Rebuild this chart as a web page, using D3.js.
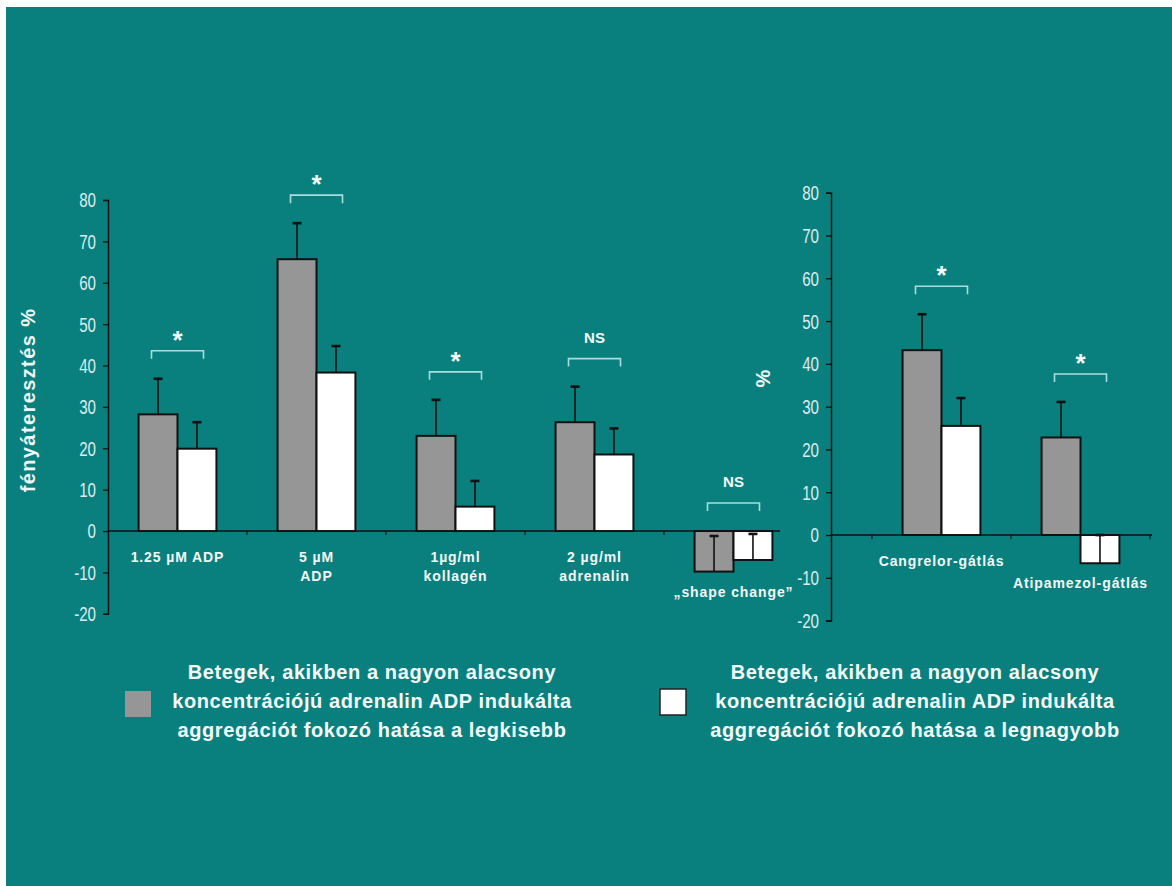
<!DOCTYPE html>
<html>
<head>
<meta charset="utf-8">
<script src="https://cdn.jsdelivr.net/npm/d3@7"></script>
<style>
  html, body { margin: 0; padding: 0; background: #ffffff; }
  svg { display: block; }
  text { font-family: Arial, "Liberation Sans", sans-serif; }
</style>
</head>
<body>
<script>
// Aggregation (% light transmission) — two patient groups
const leftCategories = [["1.25 µM ADP"], ["5 µM", "ADP"], ["1µg/ml", "kollagén"], ["2 µg/ml", "adrenalin"], ["„shape change”"]];
const leftLowValues  = [28.2, 65.7, 23.0, 26.3, -9.8];
const leftLowErrors  = [8.6, 8.7, 8.7, 8.6, 8.6];
const leftHighValues = [19.9, 38.3, 5.9, 18.5, -7.0];
const leftHighErrors = [6.4, 6.4, 6.2, 6.3, 6.3];
const leftSignificance = ["*", "*", "*", "NS", "NS"];

const rightCategories = [["Cangrelor-gátlás"], ["Atipamezol-gátlás"]];
const rightLowValues  = [43.2, 22.8];
const rightLowErrors  = [8.4, 8.3];
const rightHighValues = [25.5, -6.6];
const rightHighErrors = [6.5, 6.6];
const rightSignificance = ["*", "*"];

const yTicks = [-20, -10, 0, 10, 20, 30, 40, 50, 60, 70, 80];
const yTickLabels = ["-20", "-10", "0", "10", "20", "30", "40", "50", "60", "70", "80"];
const leftAxisTitle = "fényáteresztés %";
const rightAxisTitle = "%";
const legendLow  = ["Betegek, akikben a nagyon alacsony", "koncentrációjú adrenalin ADP indukálta", "aggregációt fokozó hatása a legkisebb"];
const legendHigh = ["Betegek, akikben a nagyon alacsony", "koncentrációjú adrenalin ADP indukálta", "aggregációt fokozó hatása a legnagyobb"];

const W = 1172, H = 886;
const BG = "#0a807e";
const GRAY = "#969696";
const WHITE = "#ffffff";
const INK = "#111111";
const BRACKET = "#a8dede";

const svg = d3.select("body").append("svg").attr("width", W).attr("height", H);
svg.append("rect").attr("x", 6).attr("y", 7).attr("width", W - 6).attr("height", H - 7).attr("fill", BG);

function drawPanel(cfg) {
  const g = svg.append("g");
  const y = d3.scaleLinear().domain([-20, 80]).range([cfg.bottom, cfg.top]);
  const x = d3.scaleBand().domain(d3.range(cfg.categories.length))
    .range([cfg.bandStart, cfg.bandStart + cfg.step * cfg.categories.length]).padding(0);
  const step = x.step();
  const x1 = d3.scaleBand().domain(["low", "high"]).range([step * 0.22, step * 0.78]).padding(0);
  const bw = x1.bandwidth();

  // y axis (labels drawn separately in a condensed face)
  const yAxis = d3.axisLeft(y).tickValues(yTicks).tickSize(5).tickFormat("");
  const ya = g.append("g").attr("transform", `translate(${cfg.axisX},0)`).call(yAxis);
  ya.select(".domain").attr("stroke", INK).attr("stroke-width", 1.5);
  ya.selectAll(".tick line").attr("stroke", INK).attr("stroke-width", 1.3);
  g.selectAll(".ylab").data(yTicks).join("text")
    .attr("transform", d => `translate(${cfg.axisX - 12},${y(d)}) scale(0.72,1)`)
    .attr("text-anchor", "end").attr("dominant-baseline", "central")
    .attr("fill", "#dcecec").style("font-size", "21px")
    .text((d, i) => yTickLabels[i]);

  // x axis line at zero with category separators
  const y0 = y(0);
  g.append("line").attr("x1", cfg.axisX).attr("x2", cfg.axisEnd).attr("y1", y0).attr("y2", y0)
    .attr("stroke", INK).attr("stroke-width", 1.5);
  const bounds = d3.range(cfg.categories.length + 1).map(i => cfg.bandStart + i * step)
    .filter(b => b > cfg.axisX + 1 && b <= cfg.axisEnd + 1);
  g.selectAll(".sep").data(bounds).join("line")
    .attr("x1", d => d).attr("x2", d => d).attr("y1", y0).attr("y2", y0 + 4)
    .attr("stroke", INK).attr("stroke-width", 1.2);

  const rows = cfg.categories.map((c, i) => ({
    i, label: c,
    low: cfg.low[i], lowErr: cfg.lowErr[i],
    high: cfg.high[i], highErr: cfg.highErr[i],
    sig: cfg.sig[i]
  }));

  const series = [
    { key: "low", fill: GRAY, v: d => d.low, e: d => d.lowErr },
    { key: "high", fill: WHITE, v: d => d.high, e: d => d.highErr }
  ];

  series.forEach(s => {
    g.selectAll(".bar-" + s.key).data(rows).join("rect")
      .attr("x", d => x(d.i) + x1(s.key))
      .attr("y", d => Math.min(y(s.v(d)), y0))
      .attr("width", bw)
      .attr("height", d => Math.abs(y(s.v(d)) - y0))
      .attr("fill", s.fill).attr("stroke", INK).attr("stroke-width", 2);
  });

  // error bars (upper direction only)
  series.forEach(s => {
    const eg = g.selectAll(".err-" + s.key).data(rows).join("g");
    const cx = d => x(d.i) + x1(s.key) + bw / 2;
    eg.append("line")
      .attr("x1", cx).attr("x2", cx)
      .attr("y1", d => y(s.v(d))).attr("y2", d => y(s.v(d) + s.e(d)))
      .attr("stroke", INK).attr("stroke-width", 1.6);
    eg.append("line")
      .attr("x1", d => cx(d) - 4.5).attr("x2", d => cx(d) + 4.5)
      .attr("y1", d => y(s.v(d) + s.e(d))).attr("y2", d => y(s.v(d) + s.e(d)))
      .attr("stroke", INK).attr("stroke-width", 2.6);
  });

  // significance brackets
  rows.forEach(d => {
    const cx = x(d.i) + step / 2;
    const peak = Math.max(0, d.low + d.lowErr, d.high + d.highErr);
    const by = y(peak) - 28;
    g.append("path")
      .attr("d", `M${cx - 26},${by + 8}V${by}H${cx + 26}V${by + 8}`)
      .attr("fill", "none").attr("stroke", BRACKET).attr("stroke-width", 1.6);
    const star = d.sig === "*";
    g.append("text")
      .attr("x", cx).attr("y", star ? by - 2 : by - 16)
      .attr("text-anchor", "middle").attr("fill", "#f4fafa")
      .style("font-weight", "bold").style("font-size", star ? "26px" : "15px")
      .text(d.sig);
  });

  // category labels
  rows.forEach(d => {
    const cx = x(d.i) + step / 2;
    const lowest = Math.min(0, d.low, d.high);
    const cy = Math.max(y0 + 26, y(lowest) + 20);
    const t = g.append("text").attr("text-anchor", "middle").attr("fill", "#f2f8f8")
      .style("font-weight", "bold").style("font-size", "14px").style("letter-spacing", "0.9px");
    d.label.forEach((line, k) => {
      t.append("tspan").attr("x", cx).attr("y", cy + 5 + k * 19).text(line);
    });
  });

  // axis title
  g.append("text")
    .attr("transform", `translate(${cfg.titleX},${cfg.titleY}) rotate(-90)`)
    .attr("text-anchor", "middle").attr("dominant-baseline", "central")
    .attr("fill", "#eef6f6").style("font-weight", "bold").style("font-size", "20px")
    .style("letter-spacing", "1.4px")
    .text(cfg.title);
}

drawPanel({
  categories: leftCategories, low: leftLowValues, lowErr: leftLowErrors,
  high: leftHighValues, highErr: leftHighErrors, sig: leftSignificance,
  top: 200, bottom: 613.8, axisX: 108, axisEnd: 780, bandStart: 108, step: 139,
  title: leftAxisTitle, titleX: 28, titleY: 400
});

drawPanel({
  categories: rightCategories, low: rightLowValues, lowErr: rightLowErrors,
  high: rightHighValues, highErr: rightHighErrors, sig: rightSignificance,
  top: 192.7, bottom: 620.6, axisX: 831, axisEnd: 1152, bandStart: 872, step: 139,
  title: rightAxisTitle, titleX: 763, titleY: 378
});

// legend
function legendBlock(sx, sy, fill, stroke, cx, lines) {
  svg.append("rect").attr("x", sx).attr("y", sy).attr("width", 26).attr("height", 26)
    .attr("fill", fill).attr("stroke", stroke).attr("stroke-width", stroke === "none" ? 0 : 1.5);
  const t = svg.append("text").attr("text-anchor", "middle").attr("fill", "#f4fafa")
    .style("font-weight", "bold").style("font-size", "20px").style("letter-spacing", "0.6px");
  lines.forEach((line, k) => {
    t.append("tspan").attr("x", cx).attr("y", 679 + k * 29).text(line);
  });
}
legendBlock(125, 691, GRAY, "none", 372, legendLow);
legendBlock(660, 689, WHITE, "#222", 915, legendHigh);
</script>
</body>
</html>
